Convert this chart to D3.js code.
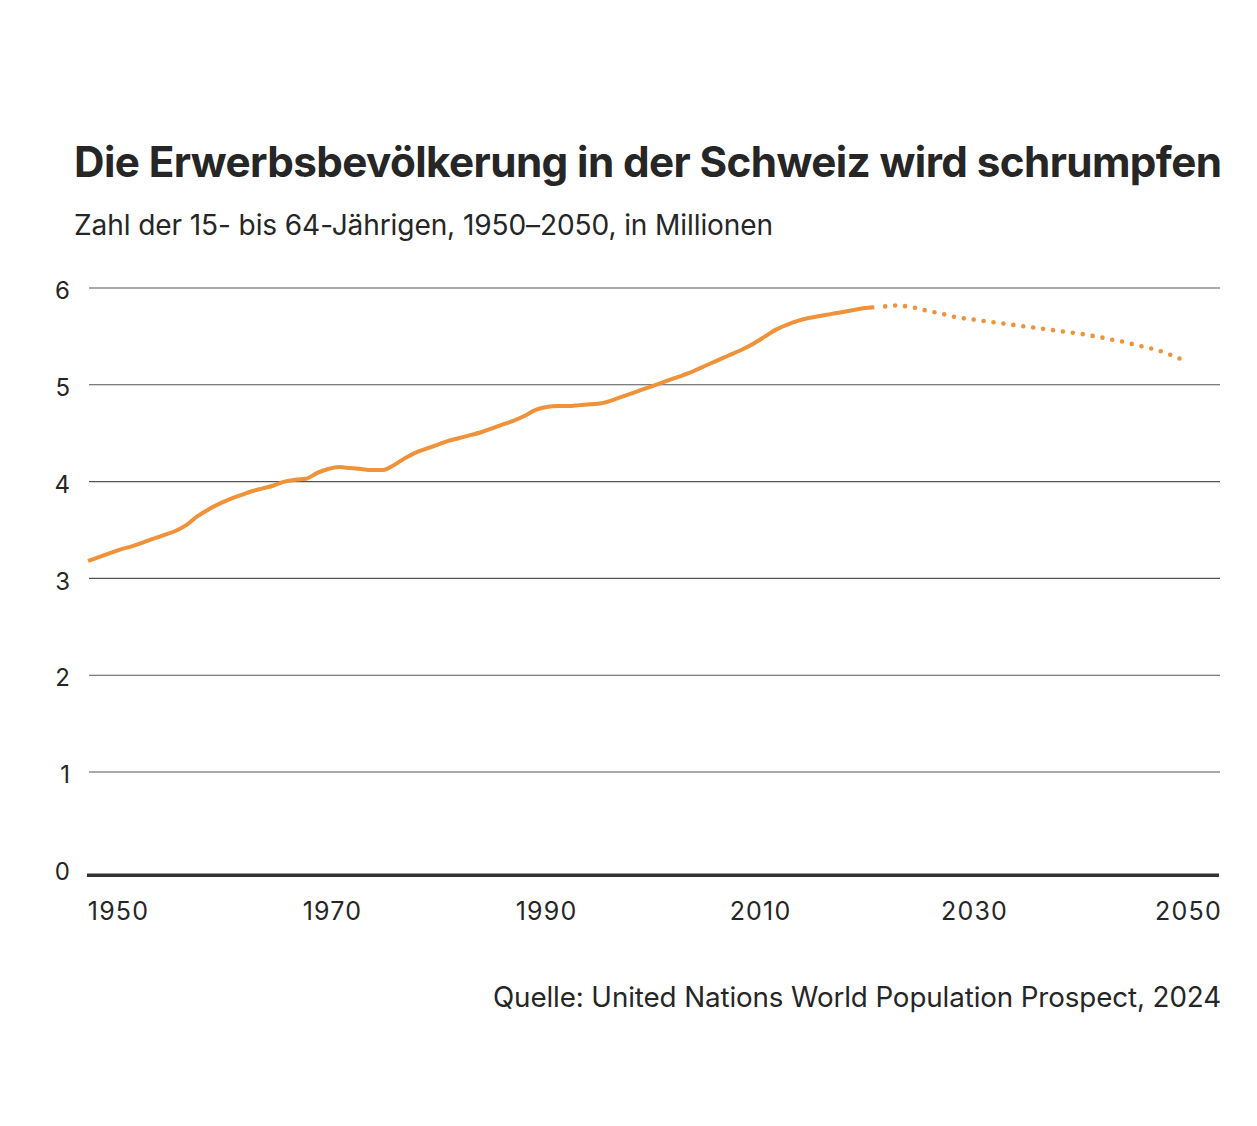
<!DOCTYPE html>
<html>
<head>
<meta charset="utf-8">
<script src="https://cdn.jsdelivr.net/npm/d3@7"></script>
<style>
  body { margin: 0; background: #fff; }
  text { font-family: Inter, "Noto Sans", sans-serif; fill: #262626; }
</style>
</head>
<body>
<div class="vis"></div>
<script>
// Erwerbsbevölkerung Schweiz, 15- bis 64-Jährige

// data (millions)
const HIST_YEARS = [
  1950, 1951, 1952, 1953, 1954, 1955, 1956, 1957, 1958, 1959,
  1960, 1961, 1962, 1963, 1964, 1965, 1966, 1967, 1968, 1969,
  1970, 1971, 1972, 1973, 1974, 1975, 1976, 1977, 1978, 1979,
  1980, 1981, 1982, 1983, 1984, 1985, 1986, 1987, 1988, 1989,
  1990, 1991, 1992, 1993, 1994, 1995, 1996, 1997, 1998, 1999,
  2000, 2001, 2002, 2003, 2004, 2005, 2006, 2007, 2008, 2009,
  2010, 2011, 2012, 2013, 2014, 2015, 2016, 2017, 2018, 2019,
  2020, 2021, 2022];
const HIST_VALUES = [
  3.18, 3.22, 3.26, 3.30, 3.33, 3.37, 3.41, 3.45, 3.49, 3.55,
  3.64, 3.71, 3.77, 3.82, 3.86, 3.90, 3.93, 3.96, 4.00, 4.02,
  4.03, 4.09, 4.13, 4.15, 4.14, 4.13, 4.12, 4.12, 4.17, 4.24,
  4.30, 4.34, 4.38, 4.42, 4.45, 4.48, 4.51, 4.55, 4.59, 4.63,
  4.68, 4.74, 4.77, 4.78, 4.78, 4.79, 4.80, 4.81, 4.84, 4.88,
  4.92, 4.96, 5.00, 5.04, 5.08, 5.12, 5.17, 5.22, 5.27, 5.32,
  5.37, 5.43, 5.50, 5.57, 5.62, 5.66, 5.69, 5.71, 5.73, 5.75,
  5.77, 5.79, 5.80];

const PROJ_YEARS = [
  2023, 2024, 2025, 2026, 2027, 2028, 2029,
  2030, 2031, 2032, 2033, 2034, 2035, 2036, 2037, 2038, 2039,
  2040, 2041, 2042, 2043, 2044, 2045, 2046, 2047, 2048, 2049, 2050];
const PROJ_VALUES = [
  5.81, 5.82, 5.81, 5.79, 5.76, 5.74, 5.71,
  5.69, 5.675, 5.66, 5.645, 5.63, 5.615, 5.60, 5.585, 5.57, 5.555,
  5.54, 5.525, 5.505, 5.485, 5.46, 5.44, 5.41, 5.385, 5.355, 5.315, 5.27];

const Y_TICKS = [0, 1, 2, 3, 4, 5, 6];
const X_TICKS = [1950, 1970, 1990, 2010, 2030, 2050];

const TITLE = "Die Erwerbsbevölkerung in der Schweiz wird schrumpfen";
const SUBTITLE = "Zahl der 15- bis 64-Jährigen, 1950–2050, in Millionen";
const SOURCE = "Quelle: United Nations World Population Prospect, 2024";

// frame
const FRAME_WIDTH = 1257;
const FRAME_HEIGHT = 1126;
const ORANGE = "#ef9239";

const FRAME = d3.select(".vis")
  .append("svg")
    .attr("width", FRAME_WIDTH)
    .attr("height", FRAME_HEIGHT);

// scales
const X_SCALE = d3.scaleLinear().domain([1950, 2050]).range([88, 1180]);
const X_LABELS = d3.scaleLinear().domain([1950, 2050]).range([118, 1188]);
const Y_SCALE = d3.scaleLinear().domain([0, 6]).range([868.8, 288]);

// scale font size so a text fills a given width
function fit(sel, width) {
  const size = +sel.attr("font-size");
  const len = sel.node().getComputedTextLength();
  sel.attr("font-size", (size * width / len).toFixed(2));
}

// titles
FRAME.append("text")
  .attr("x", 74).attr("y", 177)
  .attr("font-size", 38).attr("font-weight", 700)
  .attr("letter-spacing", -0.6)
  .text(TITLE)
  .call(fit, 1144);

FRAME.append("text")
  .attr("x", 74).attr("y", 235)
  .attr("font-size", 23)
  .attr("letter-spacing", -0.1)
  .text(SUBTITLE)
  .call(fit, 698);

// gridlines
FRAME.append("g")
  .selectAll("line")
  .data(Y_TICKS.filter(d => d > 0))
  .enter().append("line")
    .attr("x1", 89).attr("x2", 1220)
    .attr("y1", d => Y_SCALE(d)).attr("y2", d => Y_SCALE(d))
    .attr("stroke", "#555").attr("stroke-width", 1.1);

// baseline
FRAME.append("line")
  .attr("x1", 87).attr("x2", 1219)
  .attr("y1", Y_SCALE(0) + 6.5).attr("y2", Y_SCALE(0) + 6.5)
  .attr("stroke", "#333").attr("stroke-width", 3.6);

// y axis
const yAxis = FRAME.append("g")
  .attr("transform", "translate(70,3)")
  .call(d3.axisLeft(Y_SCALE).tickValues(Y_TICKS).tickFormat(d3.format("d")).tickSize(0).tickPadding(0));
yAxis.select(".domain").remove();
yAxis.selectAll("text")
  .attr("font-size", 24)
  .attr("font-family", "Inter, sans-serif")
  .attr("fill", "#222");

// x axis
const xAxis = FRAME.append("g")
  .attr("transform", "translate(0,920)")
  .call(d3.axisBottom(X_LABELS).tickValues(X_TICKS).tickFormat(d3.format("d")).tickSize(0).tickPadding(0));
xAxis.select(".domain").remove();
xAxis.selectAll("text")
  .attr("dy", 0)
  .attr("font-size", 25)
  .attr("letter-spacing", 1.2)
  .attr("font-family", "Inter, sans-serif")
  .attr("fill", "#222");

// lines
const line = d3.line()
  .x(d => X_SCALE(d[0]))
  .y(d => Y_SCALE(d[1]))
  .curve(d3.curveMonotoneX);

FRAME.append("path")
  .datum(d3.zip(HIST_YEARS, HIST_VALUES))
  .attr("d", line)
  .attr("fill", "none")
  .attr("stroke", ORANGE)
  .attr("stroke-width", 4);

FRAME.append("path")
  .datum(d3.zip(PROJ_YEARS, PROJ_VALUES))
  .attr("d", line)
  .attr("fill", "none")
  .attr("stroke", ORANGE)
  .attr("stroke-width", 4.6)
  .attr("stroke-linecap", "round")
  .attr("stroke-dasharray", "0 10");

// source
FRAME.append("text")
  .attr("x", 1221).attr("y", 1007)
  .attr("text-anchor", "end")
  .attr("font-size", 23)
  .attr("letter-spacing", -0.1)
  .text(SOURCE)
  .call(fit, 727);
</script>
</body>
</html>
